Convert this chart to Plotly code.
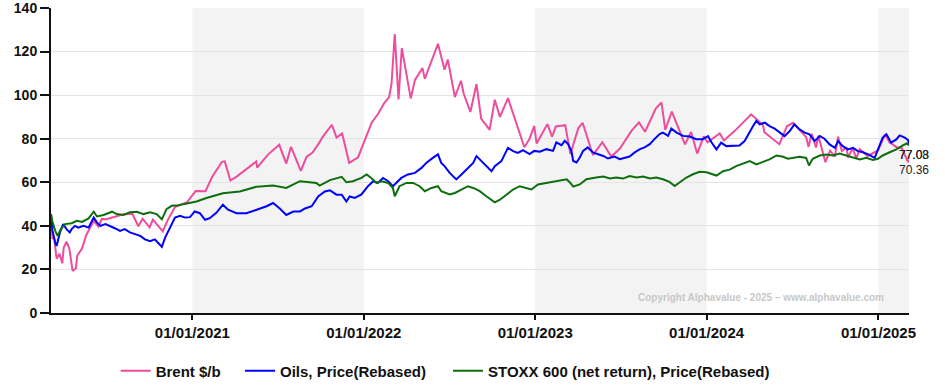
import plotly.graph_objects as go

# ---------------- data ----------------
brent_dates = ["2020-03-06","2020-03-09","2020-03-13","2020-03-18","2020-03-24","2020-03-30","2020-04-02","2020-04-08","2020-04-14","2020-04-21",
"2020-04-28","2020-05-01","2020-05-11","2020-05-20","2020-06-05","2020-06-15","2020-06-22","2020-07-02","2020-07-22","2020-08-05",
"2020-08-26","2020-09-08","2020-09-17","2020-10-02","2020-10-09","2020-10-30","2020-11-09","2020-11-25","2020-12-11","2020-12-21",
"2021-01-08","2021-01-29","2021-02-12","2021-02-25","2021-03-05","2021-03-11","2021-03-23","2021-04-06","2021-04-22","2021-05-17",
"2021-05-19","2021-06-11","2021-07-05","2021-07-20","2021-07-30","2021-08-20","2021-09-01","2021-09-14","2021-09-28","2021-10-06",
"2021-10-25","2021-11-04","2021-11-16","2021-11-26","2021-12-01","2021-12-20","2021-12-31","2022-01-18","2022-01-31","2022-02-14",
"2022-02-24","2022-03-01","2022-03-08","2022-03-16","2022-03-23","2022-04-11","2022-04-20","2022-05-06","2022-05-11","2022-06-08",
"2022-06-22","2022-06-29","2022-07-14","2022-07-27","2022-08-02","2022-08-16","2022-08-29","2022-09-08","2022-09-26","2022-10-07",
"2022-10-18","2022-11-04","2022-11-28","2022-12-09","2022-12-20","2022-12-30","2023-01-04","2023-01-27","2023-02-06","2023-02-14",
"2023-03-06","2023-03-17","2023-04-03","2023-04-12","2023-05-04","2023-05-24","2023-06-12","2023-06-30","2023-07-25","2023-08-10",
"2023-08-23","2023-09-15","2023-09-27","2023-10-05","2023-10-19","2023-11-16","2023-11-29","2023-12-12","2023-12-26","2024-01-03",
"2024-01-29","2024-02-07","2024-03-01","2024-03-19","2024-04-05","2024-04-30","2024-05-03","2024-06-04","2024-06-20","2024-07-03",
"2024-07-31","2024-08-05","2024-08-12","2024-08-21","2024-08-26","2024-09-10","2024-09-20","2024-09-30","2024-10-07","2024-10-15",
"2024-10-25","2024-10-28","2024-11-07","2024-11-15","2024-11-22","2024-12-09","2024-12-31","2025-01-15","2025-01-24","2025-02-10",
"2025-02-19","2025-03-05","2025-03-07"]
brent_values = [45.3,34.4,33.9,24.9,27.2,22.8,29.9,32.8,29.6,19.3,
20.5,26.4,29.6,35.7,42.3,39.7,43.1,43.0,44.3,45.2,
45.6,39.8,43.3,39.3,42.9,37.5,42.4,48.6,50.0,50.9,
56.0,55.9,62.4,66.9,69.4,69.6,60.8,62.7,65.4,69.5,
66.7,72.7,77.2,68.6,76.3,65.2,71.6,73.6,78.1,81.0,
86.4,80.5,82.4,72.7,68.9,71.5,77.8,87.5,91.2,96.5,
99.1,105.0,128.0,98.0,121.6,98.5,107.0,112.4,107.5,123.6,
111.7,116.3,99.1,106.6,100.5,92.3,105.1,89.2,84.1,97.9,
90.0,98.6,83.2,76.1,80.0,85.9,77.8,86.7,80.9,85.6,
86.2,73.0,84.9,87.3,72.5,78.4,71.8,75.4,83.6,87.5,
83.2,93.9,96.6,84.1,92.4,77.4,83.1,73.2,81.1,78.3,
82.4,79.2,83.6,87.4,91.2,86.3,83.0,77.5,85.7,87.3,
80.7,76.3,82.3,76.0,81.4,69.2,74.5,71.8,80.9,74.3,
76.0,71.4,75.6,71.0,75.2,72.1,74.6,82.0,78.5,75.9,
76.0,69.3,70.36]

oils_dates = ["2020-03-06","2020-03-09","2020-03-15","2020-03-18","2020-03-25","2020-04-01","2020-04-08","2020-04-15","2020-04-19","2020-04-26",
"2020-05-03","2020-05-14","2020-05-25","2020-06-05","2020-06-12","2020-06-19","2020-06-30","2020-07-10","2020-07-21","2020-07-31",
"2020-08-10","2020-08-21","2020-09-01","2020-09-12","2020-09-22","2020-10-03","2020-10-13","2020-10-24","2020-10-28","2020-11-04",
"2020-11-14","2020-11-25","2020-12-06","2020-12-16","2020-12-27","2021-01-06","2021-01-17","2021-01-28","2021-02-07","2021-02-21",
"2021-03-07","2021-03-18","2021-04-05","2021-04-26","2021-05-18","2021-06-08","2021-06-22","2021-07-06","2021-07-20","2021-08-04",
"2021-08-18","2021-08-29","2021-09-12","2021-09-26","2021-10-10","2021-10-21","2021-11-04","2021-11-15","2021-11-25","2021-12-02",
"2021-12-13","2021-12-27","2022-01-10","2022-01-21","2022-01-31","2022-02-11","2022-02-22","2022-03-04","2022-03-11","2022-03-22",
"2022-04-05","2022-04-20","2022-05-04","2022-05-14","2022-05-28","2022-06-08","2022-06-15","2022-06-22","2022-07-03","2022-07-10",
"2022-07-17","2022-07-28","2022-08-11","2022-08-22","2022-08-29","2022-09-09","2022-09-19","2022-09-30","2022-10-07","2022-10-21",
"2022-11-04","2022-11-15","2022-11-25","2022-12-06","2022-12-20","2022-12-30","2023-01-11","2023-01-25","2023-02-08","2023-02-15",
"2023-02-26","2023-03-05","2023-03-12","2023-03-19","2023-03-23","2023-03-30","2023-04-06","2023-04-13","2023-04-23","2023-05-04",
"2023-05-15","2023-05-26","2023-06-05","2023-06-19","2023-06-30","2023-07-11","2023-07-21","2023-08-01","2023-08-12","2023-08-22",
"2023-09-02","2023-09-12","2023-09-23","2023-09-30","2023-10-11","2023-10-18","2023-10-29","2023-11-12","2023-11-26","2023-12-10",
"2023-12-24","2024-01-04","2024-01-11","2024-01-22","2024-02-01","2024-02-12","2024-02-26","2024-03-11","2024-03-22","2024-04-02",
"2024-04-09","2024-04-16","2024-04-23","2024-05-04","2024-05-14","2024-05-25","2024-06-05","2024-06-15","2024-06-26","2024-07-06",
"2024-07-17","2024-07-28","2024-08-07","2024-08-18","2024-08-29","2024-09-08","2024-09-19","2024-09-30","2024-10-07","2024-10-17",
"2024-10-28","2024-11-08","2024-11-18","2024-11-29","2024-12-10","2024-12-24","2024-12-31","2025-01-10","2025-01-18","2025-01-28",
"2025-02-08","2025-02-15","2025-02-26","2025-03-05","2025-03-07"]
oils_values = [45.0,38.0,32.3,30.8,37.0,40.8,38.5,37.0,38.5,40.0,
39.2,40.0,39.2,43.8,41.5,40.0,40.8,40.0,38.8,37.7,
38.5,37.0,36.2,35.4,33.8,33.0,33.8,31.5,30.4,34.6,
39.2,43.8,44.6,43.8,44.0,46.6,45.8,42.8,43.5,46.0,
49.7,47.4,45.8,45.8,47.4,49.0,50.5,48.0,45.0,46.6,
46.6,48.0,49.0,53.5,55.8,56.3,54.3,54.3,51.2,53.5,
52.8,54.4,58.2,60.5,59.7,62.0,60.5,58.2,59.7,62.0,
63.6,64.3,66.6,68.9,71.2,72.8,68.9,67.4,64.3,62.8,
61.3,63.6,66.6,68.9,72.0,69.7,67.4,65.1,67.4,69.7,
75.8,74.3,73.5,74.7,72.9,74.4,74.0,75.2,74.4,78.3,
77.0,79.0,77.5,74.4,69.8,69.1,71.4,74.4,76.0,73.7,
72.9,72.1,70.9,71.8,70.6,71.4,71.8,73.7,75.2,76.0,
77.5,79.8,82.1,82.8,81.3,84.7,82.8,81.3,81.0,79.8,
79.8,81.2,78.5,75.1,78.2,76.6,76.6,76.9,78.9,83.5,
85.8,88.2,86.6,87.4,85.8,84.6,82.8,81.2,83.5,86.6,
84.3,82.8,82.0,78.9,81.2,80.0,77.4,75.8,78.9,76.6,
75.1,75.8,74.3,73.8,72.8,71.2,75.1,80.5,82.0,78.2,
79.7,81.5,80.5,79.4,77.08]

stoxx_dates = ["2020-03-06","2020-03-09","2020-03-15","2020-03-20","2020-03-27","2020-04-05","2020-04-19","2020-04-30","2020-05-11","2020-05-25",
"2020-06-05","2020-06-12","2020-06-26","2020-07-14","2020-07-24","2020-08-07","2020-08-21","2020-09-05","2020-09-19","2020-10-03",
"2020-10-17","2020-10-28","2020-11-07","2020-11-18","2020-12-02","2020-12-16","2020-12-31","2021-01-10","2021-01-31","2021-03-07",
"2021-04-12","2021-05-18","2021-06-22","2021-07-20","2021-08-18","2021-09-22","2021-09-29","2021-10-21","2021-11-15","2021-11-25",
"2021-12-09","2021-12-27","2022-01-07","2022-01-17","2022-01-28","2022-02-08","2022-02-22","2022-03-04","2022-03-08","2022-03-18",
"2022-04-02","2022-04-16","2022-04-30","2022-05-11","2022-05-25","2022-06-08","2022-06-15","2022-07-03","2022-07-14","2022-07-28",
"2022-08-11","2022-08-22","2022-09-05","2022-09-19","2022-09-30","2022-10-07","2022-10-18","2022-11-01","2022-11-15","2022-11-29",
"2022-12-13","2022-12-24","2023-01-07","2023-02-01","2023-02-22","2023-03-09","2023-03-16","2023-03-23","2023-04-06","2023-04-20",
"2023-05-11","2023-05-26","2023-06-09","2023-06-23","2023-07-07","2023-07-21","2023-08-05","2023-08-19","2023-09-02","2023-09-16",
"2023-09-30","2023-10-14","2023-10-25","2023-11-05","2023-11-19","2023-12-03","2023-12-17","2024-01-01","2024-01-15","2024-01-22",
"2024-02-05","2024-02-19","2024-03-04","2024-03-18","2024-04-02","2024-04-16","2024-04-30","2024-05-14","2024-05-29","2024-06-12",
"2024-06-22","2024-07-03","2024-07-17","2024-07-31","2024-08-06","2024-08-14","2024-08-29","2024-09-12","2024-09-26","2024-10-10",
"2024-10-24","2024-11-08","2024-11-22","2024-12-06","2024-12-20","2024-12-31","2025-01-10","2025-01-25","2025-02-08","2025-02-22",
"2025-03-02","2025-03-07"]
stoxx_values = [45.4,42.0,37.7,35.4,38.5,40.8,41.2,42.3,41.8,43.4,
46.5,44.3,45.0,46.5,45.4,45.0,46.2,46.5,45.4,46.2,
45.4,43.0,47.7,49.2,49.5,50.0,50.8,51.2,52.8,55.0,
55.8,58.0,58.5,57.4,60.5,59.7,58.5,61.0,62.5,60.0,
60.5,62.0,63.6,62.0,59.7,60.5,59.7,57.4,53.6,58.2,
59.7,59.7,58.2,55.9,57.4,58.2,55.9,54.4,55.1,56.7,
58.2,57.4,55.9,53.6,52.0,50.8,52.0,54.4,56.7,58.2,
57.4,56.7,59.0,59.9,60.6,61.4,59.9,58.0,59.0,61.4,
62.2,62.6,61.7,62.2,61.7,62.9,62.2,62.6,61.7,62.2,
61.4,60.2,58.3,59.9,62.2,63.7,64.8,64.6,63.5,63.1,
65.1,65.8,67.4,68.6,69.7,68.2,69.2,70.5,72.3,71.7,
70.8,71.2,71.7,71.2,67.7,70.8,72.3,72.8,72.3,73.2,
72.3,71.2,70.5,71.2,70.2,70.8,72.3,73.8,75.1,76.9,
77.8,77.03]

series_names = ["Brent $/b", "Oils, Price(Rebased)", "STOXX 600 (net return), Price(Rebased)"]
series_colors = ["#EE4C9C", "#0000FF", "#0E6E0E"]
legend_x = [0.0754, 0.2203, 0.4627]

x_tick_vals = ["2021-01-01", "2022-01-01", "2023-01-01", "2024-01-01", "2025-01-01"]
x_tick_text = ["01/01/2021", "01/01/2022", "01/01/2023", "01/01/2024", "01/01/2025"]
y_tick_vals = [0, 20, 40, 60, 80, 100, 120, 140]
shaded_periods = [("2021-01-01", "2022-01-01"), ("2023-01-01", "2024-01-01"), ("2025-01-01", "2025-03-07")]
x_range = ["2020-03-06", "2025-03-07"]

# ---------------- figure ----------------
fig = go.Figure()
all_series = [(brent_dates, brent_values), (oils_dates, oils_values), (stoxx_dates, stoxx_values)]
legend_ids = ["legend", "legend2", "legend3"]
for (d, v), name, col, lg in zip(all_series, series_names, series_colors, legend_ids):
    fig.add_trace(go.Scatter(x=d, y=v, mode="lines", name=name, legend=lg,
                             line=dict(color=col, width=2)))

for x0, x1 in shaded_periods:
    fig.add_vrect(x0=x0, x1=x1, fillcolor="#F3F3F3", line_width=0, layer="below")

# end-value labels
for (d, v) in all_series:
    fig.add_annotation(x=d[-1], y=v[-1], text=f"{v[-1]:.2f}", showarrow=False,
                       xanchor="left", yanchor="middle", xshift=-12, yshift=-10,
                       font=dict(family="Liberation Sans, Arial", size=12, color="#222222"))

fig.add_annotation(xref="paper", yref="paper", x=0.973, y=0.051, xanchor="right", yanchor="middle",
                   text="Copyright Alphavalue - 2025 \u2013 www.alphavalue.com", showarrow=False,
                   font=dict(family="Liberation Sans, Arial", size=10, color="#C8C8C8", weight="bold"))

legend_common = dict(orientation="h", xanchor="left", y=-0.19, yanchor="middle",
                     font=dict(size=15, weight="bold", color="#111111"), bgcolor="rgba(0,0,0,0)")

fig.update_layout(
    width=945, height=388,
    margin=dict(l=51, r=36, t=8, b=75, autoexpand=False),
    paper_bgcolor="white", plot_bgcolor="white",
    font=dict(family="Liberation Sans, Arial", color="#111111"),
    showlegend=True,
    legend=dict(x=legend_x[0], **legend_common),
    legend2=dict(x=legend_x[1], **legend_common),
    legend3=dict(x=legend_x[2], **legend_common),
    xaxis=dict(range=x_range, tickvals=x_tick_vals, ticktext=x_tick_text, showgrid=False,
               showline=True, linecolor="#111111", linewidth=2, ticks="outside", ticklen=5,
               tickcolor="#111111", tickwidth=1.5, zeroline=False, ticklabeloverflow="allow",
               tickfont=dict(size=15, weight="bold", color="#111111")),
    yaxis=dict(range=[0, 140], tickvals=y_tick_vals, showgrid=True, gridcolor="#E4E4E4", gridwidth=1,
               showline=True, linecolor="#111111", linewidth=2, ticks="outside", ticklen=9,
               tickcolor="#111111", tickwidth=1.5, zeroline=False, ticklabeloverflow="allow",
               tickfont=dict(size=14, weight="bold", color="#111111")),
)

fig.write_html("out.html", config={"displayModeBar": False},
               post_script="document.body.style.margin='0';")
